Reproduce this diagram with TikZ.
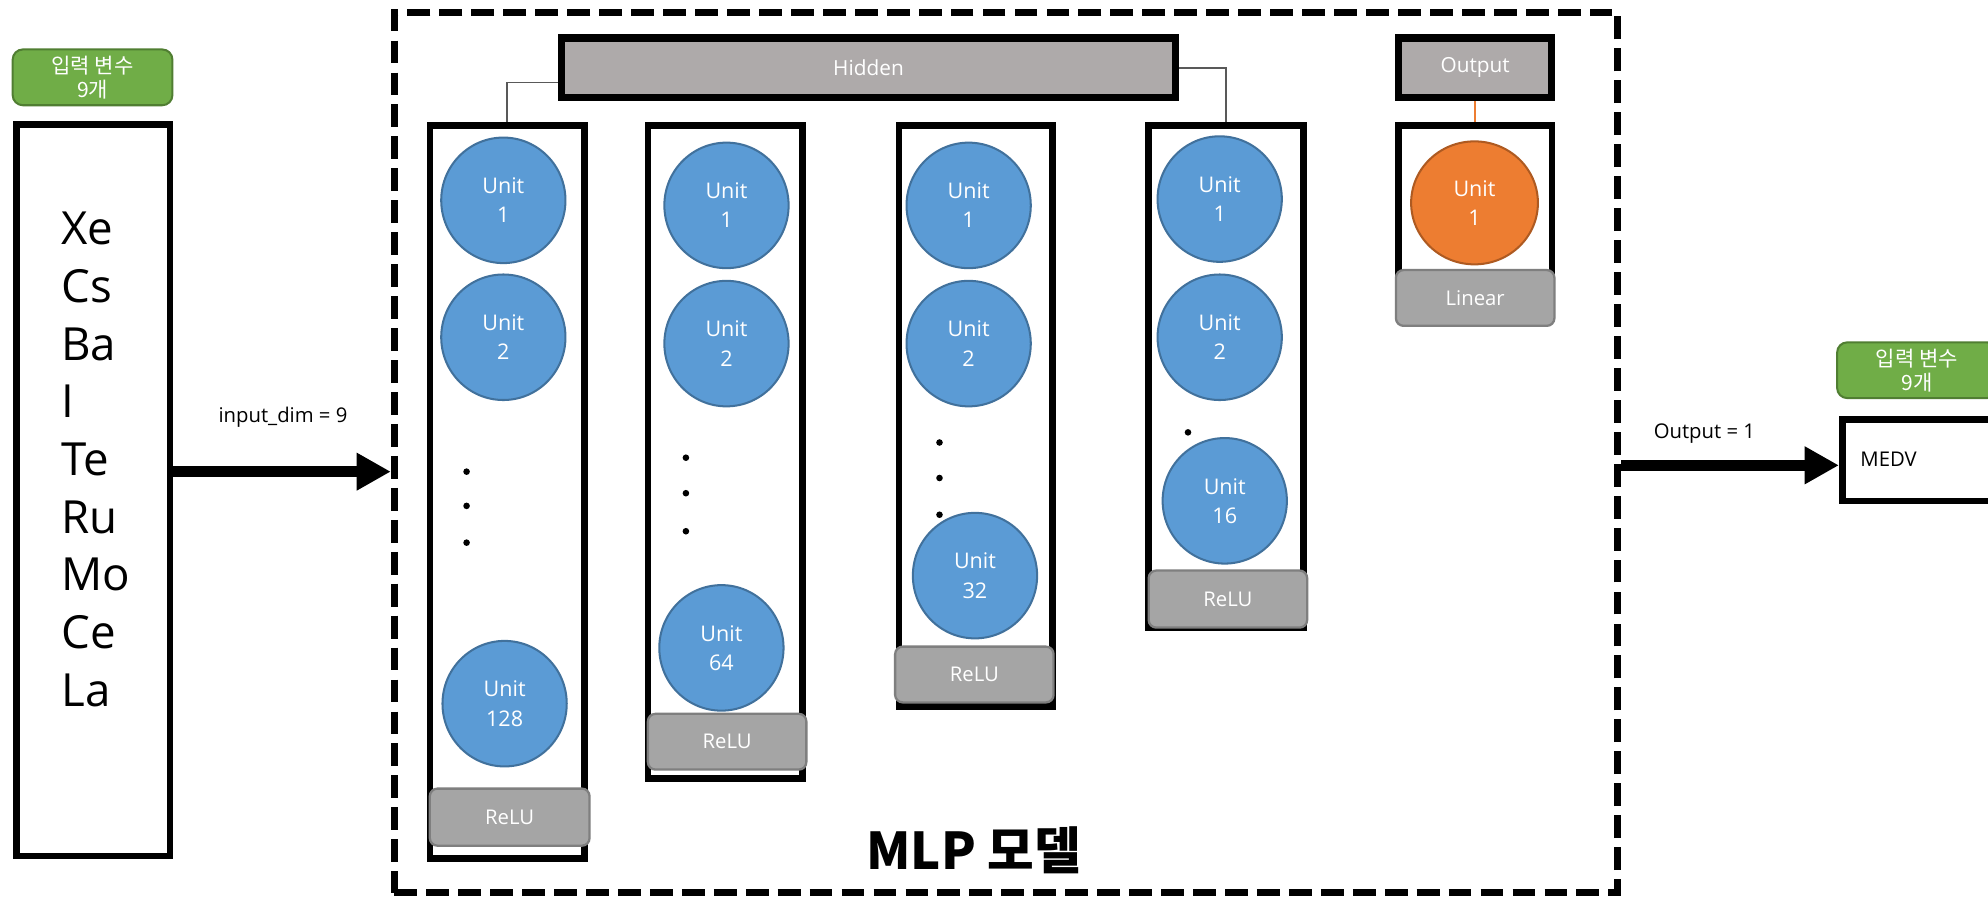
\documentclass[tikz,border=0pt]{standalone}
\usepackage{fontspec}
\setmainfont{Open Sans}
\newfontfamily\kr{Noto Sans CJK KR}
\usetikzlibrary{shapes.geometric,arrows.meta}
\definecolor{unitblue}{HTML}{5B9BD5}
\definecolor{unitborder}{HTML}{41719C}
\definecolor{outorange}{HTML}{ED7D31}
\definecolor{outborder}{HTML}{AE5A21}
\definecolor{boxgray}{HTML}{AEAAAA}
\definecolor{actgray}{HTML}{A5A5A5}
\definecolor{actborder}{HTML}{7F7F7F}
\definecolor{lblgreen}{HTML}{70AD47}
\definecolor{lblborder}{HTML}{507E32}
\definecolor{connc}{HTML}{595959}
\tikzset{
  colbox/.style={draw=black, line width=2.6pt, rectangle, inner sep=0pt},
  headbox/.style={draw=black, line width=2.8pt, fill=boxgray, text=white, inner sep=0pt,
    font=\fontsize{8.2}{10}\selectfont},
  unitnode/.style={ellipse, draw=unitborder, line width=0.8pt, fill=unitblue, text=white,
    font=\fontsize{8.5}{11.5}\selectfont, align=center, minimum width=49pt, minimum height=49.5pt, inner sep=0pt},
  actbox/.style={rectangle, rounded corners=3pt, draw=actborder, line width=0.9pt, fill=actgray,
    text=white, font=\fontsize{8}{10}\selectfont, minimum width=62.5pt, minimum height=22pt, inner sep=0pt},
  greenlbl/.style={rectangle, rounded corners=4pt, draw=lblborder, line width=0.8pt, fill=lblgreen,
    text=white, font=\kr\fontsize{8.3}{9.5}\selectfont, align=center, minimum width=63pt, minimum height=22pt, inner sep=0pt},
  elem/.style={font=\fontsize{18}{22}\selectfont, inner sep=0pt},
  smalltxt/.style={font=\fontsize{8}{10}\selectfont, inner sep=0pt},
  bigarrow/.style={line width=4.3pt, -{Triangle[length=13.5pt,width=14pt]}},
  conn/.style={draw=connc, line width=0.6pt},
  dotmark/.style={fill=black}
}
\begin{document}
\begin{tikzpicture}[x=0.5pt,y=-0.5pt]
\clip (0,0) rectangle (1568,707);
\fill[white] (0,0) rectangle (1568,707);

% left input
\node[greenlbl] (lbl1) at (73,61) {입력 변수\\9개};
\node[colbox, minimum width=60.5pt, minimum height=288.5pt] (leftbox) at (73.5,386.5) {};
\foreach \t [count=\i] in {Xe,Cs,Ba,I,Te,Ru,Mo,Ce,La}
  \node[elem, anchor=base west] (el\i) at (48,{193+45.5*(\i-1)}) {\t};

% dashed model box
\node[draw=black, line width=2.75pt, dash pattern=on 9pt off 3.6pt, minimum width=482.5pt, minimum height=347pt, inner sep=0pt] (model) at (793.5,357) {};

% arrow in
\coordinate (ay1) at (0,372);
\draw[bigarrow] (leftbox.east |- ay1) -- (model.west |- ay1);
\node[smalltxt, anchor=base west] (inlbl) at (172,333) {input\_dim = 9};

% headers
\node[headbox, minimum width=242pt, minimum height=23.5pt] (hidden) at (685,53.5) {Hidden};
\node[headbox, minimum width=60.5pt, minimum height=23.5pt] (outhead) at (1163.5,53.5) {Output};

% columns
\node[colbox, minimum width=61pt, minimum height=289pt] (c1) at (400,388) {};
\node[colbox, minimum width=61pt, minimum height=257.5pt] (c2) at (572,356.5) {};
\node[colbox, minimum width=60.5pt, minimum height=229pt] (c3) at (769.5,328) {};
\node[colbox, minimum width=61pt, minimum height=198pt] (c4) at (967,297) {};
\node[colbox, minimum width=60.5pt, minimum height=61.5pt] (c5) at (1163.5,160.5) {};

% connectors
\draw[conn] ([yshift=-5.75pt]hidden.west) -| (c1.north);
\draw[conn] (hidden.east) -| (c4.north);
\draw[draw=outorange, line width=0.6pt] (outhead.south) -- (c5.north);

% column 1
\node[unitnode] (u11) at (397,158) {Unit\\1};
\node[unitnode] (u12) at (397,266) {Unit\\2};
\node[unitnode] (u1n) at (398,555) {Unit\\128};
\foreach \yy in {372,399,428} \fill[dotmark] (368,\yy) circle (1.3pt);
\node[actbox, minimum width=63pt, minimum height=22.5pt] (r1) at (402,644.5) {ReLU};

% column 2
\node[unitnode] (u21) at (573,162) {Unit\\1};
\node[unitnode] (u22) at (573,271) {Unit\\2};
\node[unitnode] (u2n) at (569,511) {Unit\\64};
\foreach \yy in {361,389,419} \fill[dotmark] (541,\yy) circle (1.3pt);
\node[actbox] (r2) at (573.5,585) {ReLU};

% column 3
\node[unitnode] (u31) at (764,162) {Unit\\1};
\node[unitnode] (u32) at (764,271) {Unit\\2};
\foreach \yy in {349,377,406} \fill[dotmark] (741,\yy) circle (1.3pt);
\node[unitnode] (u3n) at (769,454) {Unit\\32};
\node[actbox] (r3) at (768.5,532) {ReLU};

% column 4
\node[unitnode] (u41) at (962,157) {Unit\\1};
\node[unitnode] (u42) at (962,266) {Unit\\2};
\fill[dotmark] (937,341) circle (1.3pt);
\node[unitnode] (u4n) at (966,395) {Unit\\16};
\node[actbox, minimum height=22.5pt] (r4) at (968.5,472.5) {ReLU};

% output column
\node[unitnode, draw=outborder, fill=outorange, minimum width=50pt, minimum height=48.5pt] (uout) at (1163,160) {Unit\\1};
\node[actbox] (lin) at (1163.5,235) {Linear};

% title
\node[font=\kr\bfseries\fontsize{20}{24}\selectfont, inner sep=0pt] (title) at (768,671) {MLP 모델};

% output side
\node[greenlbl] (lbl2) at (1512,292) {입력 변수\\9개};
\node[colbox, line width=2.6pt, minimum width=73.5pt, minimum height=32pt] (medv) at (1526.5,363) {};
\node[smalltxt, anchor=west] (medvtxt) at (1467,362) {MEDV};
\coordinate (ay2) at (0,367);
\draw[bigarrow] (model.east |- ay2) -- (medv.west |- ay2);
\node[smalltxt, anchor=base west] (outlbl) at (1304,346) {Output = 1};
\end{tikzpicture}
\end{document}
